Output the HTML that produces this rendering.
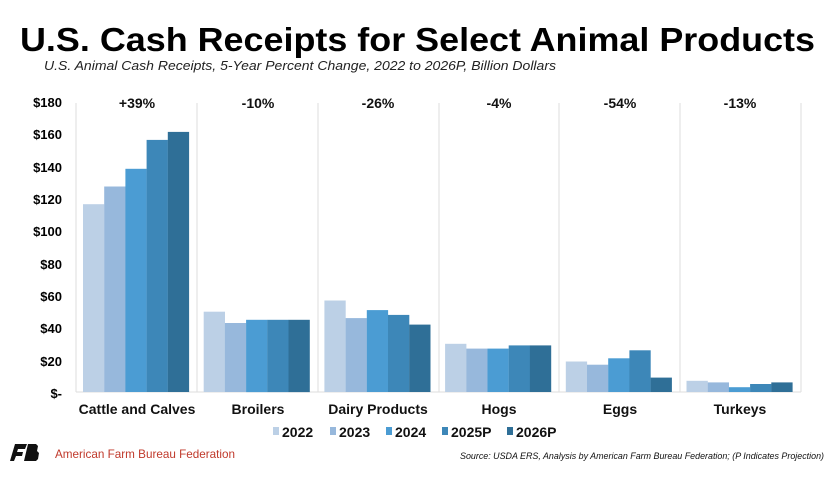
<!DOCTYPE html>
<html><head><meta charset="utf-8"><style>
html,body{margin:0;padding:0;background:#fff;}
svg{display:block;font-family:"Liberation Sans",sans-serif;}
</style></head><body>
<svg width="834" height="487" viewBox="0 0 834 487">
<text x="20" y="51" font-size="33" font-weight="bold" fill="#000" textLength="795" lengthAdjust="spacingAndGlyphs">U.S. Cash Receipts for Select Animal Products</text>
<text x="44" y="70" font-size="12.5" font-style="italic" fill="#222" textLength="512" lengthAdjust="spacingAndGlyphs">U.S. Animal Cash Receipts, 5-Year Percent Change, 2022 to 2026P, Billion Dollars</text>
<g font-size="13" font-weight="bold" text-anchor="end" fill="#000">
<text x="62" y="107">$180</text><text x="62" y="139">$160</text><text x="62" y="172">$140</text>
<text x="62" y="204">$120</text><text x="62" y="236">$100</text><text x="62" y="269">$80</text>
<text x="62" y="301">$60</text><text x="62" y="333">$40</text><text x="62" y="366">$20</text>
<text x="62" y="398">$-</text>
</g>
<g stroke="#ddd" stroke-width="1">
<line x1="76" y1="103" x2="76" y2="392"/><line x1="197" y1="103" x2="197" y2="392"/>
<line x1="318" y1="103" x2="318" y2="392"/><line x1="439" y1="103" x2="439" y2="392"/>
<line x1="559" y1="103" x2="559" y2="392"/><line x1="680" y1="103" x2="680" y2="392"/>
<line x1="801" y1="103" x2="801" y2="392"/><line x1="76" y1="392" x2="801" y2="392"/>
</g>
<g id="bars"></g>
<g font-size="14" font-weight="bold" text-anchor="middle" fill="#111">
<text x="137" y="108">+39%</text><text x="258" y="108">-10%</text><text x="378" y="108">-26%</text>
<text x="499" y="108">-4%</text><text x="620" y="108">-54%</text><text x="740" y="108">-13%</text>
<text x="137" y="414">Cattle and Calves</text><text x="258" y="414">Broilers</text><text x="378" y="414">Dairy Products</text>
<text x="499" y="414">Hogs</text><text x="620" y="414">Eggs</text><text x="740" y="414">Turkeys</text>
</g>
<g font-size="14" font-weight="bold" fill="#111">
<rect x="273" y="427" width="6" height="8" fill="#bcd0e6"/><text x="282" y="437">2022</text>
<rect x="330" y="427" width="6" height="8" fill="#97b8dc"/><text x="339" y="437">2023</text>
<rect x="386" y="427" width="6" height="8" fill="#4b9cd3"/><text x="395" y="437">2024</text>
<rect x="442" y="427" width="6" height="8" fill="#3d87b8"/><text x="451" y="437">2025P</text>
<rect x="507" y="427" width="6" height="8" fill="#2f6f97"/><text x="516" y="437">2026P</text>
</g>
<path d="M15,444 h12 l-2,5 h-7 l-1,3 h6 l-1,4 h-6 l-2,5 h-4 z" fill="#111"/>
<path d="M28,444 h8 l2,2 l-1,5 l2,2 l-1,6 l-2,2 h-12 z" fill="#111"/>
<text x="55" y="458" font-size="12" fill="#c0392b" textLength="180" lengthAdjust="spacingAndGlyphs">American Farm Bureau Federation</text>
<text x="824" y="459" font-size="9.5" font-style="italic" text-anchor="end" fill="#111" textLength="364" lengthAdjust="spacingAndGlyphs">Source: USDA ERS, Analysis by American Farm Bureau Federation; (P Indicates Projection)</text>
</svg>
<script>
var d=[[117,128,139,157,162],[50,43,45,45,45],[57,46,51,48,42],[30,27,27,29,29],[19,17,21,26,9],[7,6,3,5,6]];
var c=["#bcd0e6","#97b8dc","#4b9cd3","#3d87b8","#2f6f97"];
var g=document.getElementById("bars"),s="";
for(var i=0;i<6;i++)for(var j=0;j<5;j++){var x=83+i*120.7+j*21.2,h=d[i][j]*289/180;
s+='<rect x="'+x.toFixed(1)+'" y="'+(392-h).toFixed(1)+'" width="21.3" height="'+h.toFixed(1)+'" fill="'+c[j]+'"/>';}
g.innerHTML=s;
</script>
</body></html>
